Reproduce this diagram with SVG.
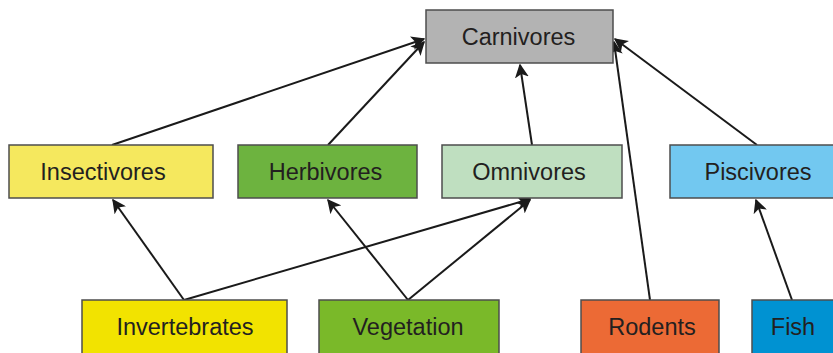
<svg xmlns="http://www.w3.org/2000/svg" width="833" height="353" viewBox="0 0 833 353">
  <style>
    .box { stroke: #4d4d4d; stroke-width: 1.5; }
    .lbl { font-family: "Liberation Sans", Arial, sans-serif; font-size: 23.5px; fill: #231f20; text-anchor: middle; dominant-baseline: central; }
    .edge { stroke: #1a1a1a; stroke-width: 2; fill: none; marker-end: url(#arrow); }
  </style>
  <defs>
    <marker id="arrow" viewBox="0 0 10 10" refX="9" refY="5" markerWidth="7" markerHeight="7" orient="auto" markerUnits="strokeWidth">
      <path d="M0,0 L10,5 L0,10 L2.5,5 z" fill="#1a1a1a"/>
    </marker>
  </defs>
  <rect width="833" height="353" fill="#ffffff"/>

  <g id="connectors">
    <line class="edge" x1="112" y1="145" x2="424" y2="39"/>
    <line class="edge" x1="328" y1="145" x2="424" y2="42"/>
    <line class="edge" x1="532" y1="145" x2="520" y2="65"/>
    <line class="edge" x1="650" y1="300" x2="614" y2="42"/>
    <line class="edge" x1="757" y1="145" x2="615" y2="39"/>
    <line class="edge" x1="184" y1="300" x2="113" y2="200"/>
    <line class="edge" x1="184" y1="300" x2="530" y2="199"/>
    <line class="edge" x1="408" y1="300" x2="328" y2="200"/>
    <line class="edge" x1="408" y1="300" x2="530" y2="200"/>
    <line class="edge" x1="792" y1="300" x2="756" y2="200"/>
  </g>

  <g id="carnivores">
    <rect class="box" x="426" y="10" width="187" height="53" fill="#b3b3b3"/>
    <text class="lbl" x="518.5" y="37">Carnivores</text>
  </g>
  <g id="insectivores">
    <rect class="box" x="9" y="145" width="204" height="53" fill="#f5e85e"/>
    <text class="lbl" x="103" y="172">Insectivores</text>
  </g>
  <g id="herbivores">
    <rect class="box" x="238" y="145" width="179" height="53" fill="#6db33f"/>
    <text class="lbl" x="325.5" y="172">Herbivores</text>
  </g>
  <g id="omnivores">
    <rect class="box" x="442" y="145" width="180" height="53" fill="#bfdfc0"/>
    <text class="lbl" x="529" y="172">Omnivores</text>
  </g>
  <g id="piscivores">
    <rect class="box" x="670" y="145" width="170" height="53" fill="#72c8f0"/>
    <text class="lbl" x="758" y="172">Piscivores</text>
  </g>
  <g id="invertebrates">
    <rect class="box" x="82" y="300" width="205" height="60" fill="#f2e300"/>
    <text class="lbl" x="185" y="327">Invertebrates</text>
  </g>
  <g id="vegetation">
    <rect class="box" x="319" y="300" width="180" height="60" fill="#7ab929"/>
    <text class="lbl" x="408" y="327">Vegetation</text>
  </g>
  <g id="rodents">
    <rect class="box" x="581" y="300" width="138" height="60" fill="#ec6a35"/>
    <text class="lbl" x="652" y="327">Rodents</text>
  </g>
  <g id="fish">
    <rect class="box" x="752" y="300" width="90" height="60" fill="#0092d2"/>
    <text class="lbl" x="793" y="327">Fish</text>
  </g>
</svg>
